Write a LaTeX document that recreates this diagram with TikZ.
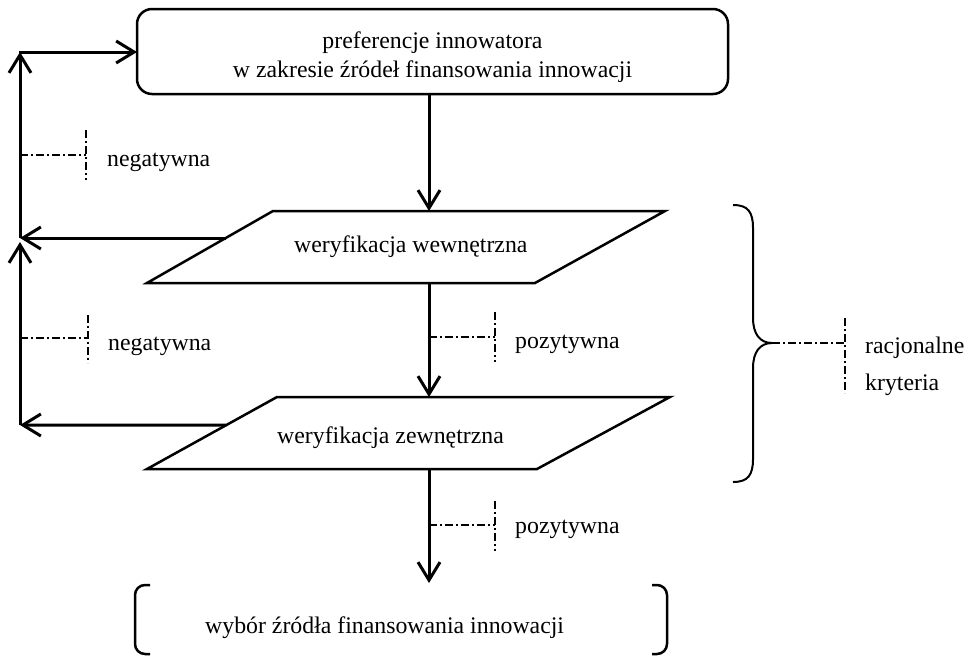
\documentclass[tikz,border=0pt]{standalone}
\usepackage{fontspec}
\setmainfont{Liberation Serif}
\usetikzlibrary{arrows.meta,calc}
\begin{document}
\begin{tikzpicture}[x=1pt,y=-1pt,
  txt/.style={inner sep=0pt,font=\fontsize{23.8}{29}\selectfont},
  shapeline/.style={line width=2.5pt,line join=miter},
  arr/.style={line width=3pt,-{Straight Barb[length=18pt,width=22pt]}},
  dd/.style={line width=1.3pt,dash pattern=on 8pt off 3pt on 2pt off 3pt},
  brace/.style={line width=2pt}]
\useasboundingbox (0,0) rectangle (971,656);
% top box
\node[shapeline,draw,rounded corners=15pt,minimum width=591pt,minimum height=85pt,inner sep=0pt] (top) at (432.5,51.5) {};
\node[txt,anchor=base] (t1) at (432.5,48) {preferencje innowatora};
\node[txt,anchor=base] (t2) at (432.5,77) {w zakresie źródeł finansowania innowacji};
% parallelogram 1
\coordinate (tl1) at (273,211); \coordinate (tr1) at (665,211);
\coordinate (br1) at (535,283); \coordinate (bl1) at (147,283);
\draw[shapeline] (tl1) -- (tr1) -- (br1) -- (bl1) -- cycle;
\node[txt,anchor=base west] (w1) at (294,252) {weryfikacja wewnętrzna};
% parallelogram 2
\coordinate (tl2) at (277,397); \coordinate (tr2) at (670,397);
\coordinate (br2) at (537,469); \coordinate (bl2) at (147,469);
\draw[shapeline] (tl2) -- (tr2) -- (br2) -- (bl2) -- cycle;
\node[txt,anchor=base west] (w2) at (277,443) {weryfikacja zewnętrzna};
% bottom bracket box
\draw[shapeline,rounded corners=10pt] (150,585) -- (135,585) -- (135,654) -- (150,654);
\draw[shapeline,rounded corners=10pt] (652,585) -- (667,585) -- (667,654) -- (652,654);
\coordinate (bt) at (429,583);
\node[txt,anchor=base west] (wb) at (205,633) {wybór źródła finansowania innowacji};
% main vertical arrows
\coordinate (a0) at (429,94);
\coordinate (a1) at (429,211);
\coordinate (a2) at (429,283);
\coordinate (a3) at (429,397);
\coordinate (a4) at (429,469);
\draw[arr] (a0) -- (a1);
\draw[arr] (a2) -- (a3);
\draw[arr] (a4) -- (bt);
% left feedback
\coordinate (l1) at ($(bl1)!0.625!(tl1)$);
\coordinate (l2) at ($(bl2)!0.611!(tl2)$);
\coordinate (v1) at (20,238);
\coordinate (v2) at (20,425);
\coordinate (v0) at (20,52);
\coordinate (v1b) at (20,242);
\coordinate (tin) at (137,52);
\draw[arr] (l1) -- (v1);
\draw[arr] (l2) -- (v2);
\draw[arr] (v2) -- (v1b);
\draw[arr] (v1) -- (v0);
\draw[arr] ([xshift=-1.5pt]v0) -- (tin);
% labels with dash-dot markers
\coordinate (n1a) at (20,155); \coordinate (n1b) at (86,155);
\draw[dd] (n1a) -- (n1b); \draw[dd] (86,130) -- (86,180);
\node[txt,anchor=base west] (neg1) at (107,166) {negatywna};
\coordinate (n2a) at (20,338); \coordinate (n2b) at (88,338);
\draw[dd] (n2a) -- (n2b); \draw[dd] (88,315) -- (88,363);
\node[txt,anchor=base west] (neg2) at (108,350) {negatywna};
\coordinate (p1a) at (429,337); \coordinate (p1b) at (495,337);
\draw[dd] (p1a) -- (p1b); \draw[dd] (495,312) -- (495,362);
\node[txt,anchor=base west] (poz1) at (515,348) {pozytywna};
\coordinate (p2a) at (429,525); \coordinate (p2b) at (495,525);
\draw[dd] (p2a) -- (p2b); \draw[dd] (495,501) -- (495,551);
\node[txt,anchor=base west] (poz2) at (515,533) {pozytywna};
% brace
\coordinate (tip) at (772,343);
\draw[brace] (733,205) .. controls (748,205) and (753,212) .. (753,228) -- (753,318)
  .. controls (753,334) and (760,343) .. (tip)
  .. controls (760,343) and (753,352) .. (753,368) -- (753,459)
  .. controls (753,475) and (748,482) .. (733,482);
\coordinate (rb) at (845,343);
\draw[dd] (tip) -- (rb); \draw[dd] (845,318) -- (845,393);
\node[txt,anchor=base west] (rac) at (865,353) {racjonalne};
\node[txt,anchor=base west] (kry) at (865,390) {kryteria};
\end{tikzpicture}
\end{document}
